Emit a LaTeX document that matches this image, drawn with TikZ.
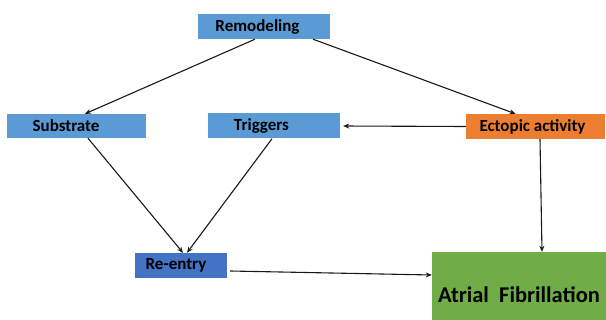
\documentclass[tikz,border=0pt]{standalone}
\usepackage{fontspec}
\setmainfont{Carlito}
\usetikzlibrary{arrows.meta}
\definecolor{boxblue}{HTML}{5B9BD5}
\definecolor{boxorange}{HTML}{ED7D31}
\definecolor{boxdark}{HTML}{4472C4}
\definecolor{boxgreen}{HTML}{70AD47}
\tikzset{
  lbl/.style={rectangle, inner sep=0pt, font=\fontsize{17}{20}\selectfont\bfseries, text=black},
  bluebox/.style={lbl, fill=boxblue},
  arr/.style={draw=black!90, line width=1.1pt, -{Stealth[length=6pt,width=5pt]}},
}
\begin{document}
\begin{tikzpicture}[x=1pt,y=-1pt]
\useasboundingbox (0,0) rectangle (606,320);
\node[bluebox, minimum width=132pt, minimum height=25pt] (rem) at (264,26.5) {Remodeling\hspace*{13pt}};
\node[bluebox, minimum width=139pt, minimum height=24pt] (sub) at (76.5,126) {Substrate\hspace*{21pt}};
\node[bluebox, minimum width=132pt, minimum height=25pt] (trig) at (274,126) {Triggers\hspace*{25pt}};
\node[lbl, fill=boxorange, minimum width=139pt, minimum height=25pt] (ect) at (535.5,126.5) {Ectopic activity\hspace*{6pt}};
\node[lbl, fill=boxdark, minimum width=92pt, minimum height=25pt] (re) at (181,265.5) {Re-entry\hspace*{10pt}};
\node[lbl, fill=boxgreen, minimum width=174pt, minimum height=68pt, font=\fontsize{22.5}{26}\selectfont\bfseries] (af) at (519,286) {\raisebox{-17pt}[0pt][0pt]{Atrial\ \ Fibrillation}};
\draw[arr] ([xshift=-9pt]rem.south) -- ([xshift=8.5pt]sub.north);
\draw[arr] ([xshift=49pt]rem.south) -- ([xshift=-20pt]ect.north);
\draw[arr, shorten >=3pt] (ect.west) -- (trig.east);
\draw[arr] ([xshift=11.5pt]sub.south) -- ([xshift=2pt]re.north);
\draw[arr] ([xshift=-2pt]trig.south) -- ([xshift=6pt]re.north);
\draw[arr] ([xshift=4.5pt]ect.south) -- ([xshift=23pt]af.north);
\draw[arr] ([xshift=3pt,yshift=-5.5pt]re.east) -- ([yshift=11pt]af.west);
\end{tikzpicture}
\end{document}
